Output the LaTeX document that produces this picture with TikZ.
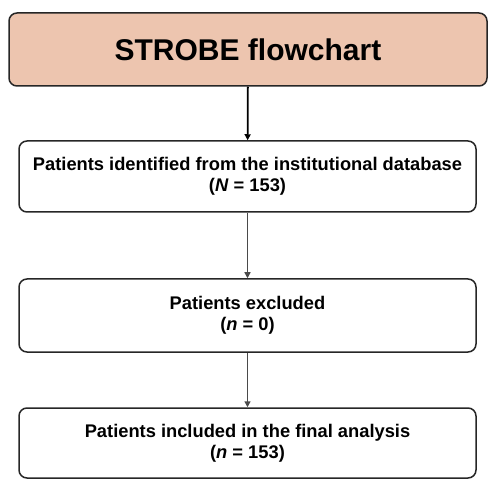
\documentclass[tikz,border=0pt]{standalone}
\usepackage{fontspec}
\setmainfont{Liberation Sans}
\usepackage{tikz}
\usetikzlibrary{positioning}
\usetikzlibrary{arrows.meta}

\definecolor{titlefill}{HTML}{EDC5AF}
\definecolor{arrowgray}{HTML}{4A4A4A}

\begin{document}
\begin{tikzpicture}[x=1pt, y=1pt]
    \tikzset{box/.style={draw=black!85, line width=1.5pt, rounded corners=8pt, minimum width=457pt, minimum height=71pt, align=center, font=\fontsize{18.3}{21}\selectfont\bfseries},
             flow/.style={-{Triangle[length=6pt, width=6pt]}, line width=1.8pt}}
    \useasboundingbox (0, 0) rectangle (496, -492);
    % title
    \node [box, fill=titlefill, minimum width=478pt, minimum height=73pt, font=\fontsize{30}{36}\selectfont\bfseries] (0) at (248, -49.5) {STROBE flowchart};
    % patient flow
    \node [box] (1) at (247.5, -176.5) {Patients identified from the institutional database\\(\textit{N} = 153)};
    \node [box, minimum height=73pt] (2) at (247.5, -315.5) {Patients excluded\\(\textit{n} = 0)};
    \node [box, minimum height=70pt] (3) at (247.5, -443) {Patients included in the final analysis\\(\textit{n} = 153)};
    \draw [flow, black] (0) to (1);
    \draw [flow, arrowgray] (1) to (2);
    \draw [flow, arrowgray] (2) to (3);
\end{tikzpicture}
\end{document}
